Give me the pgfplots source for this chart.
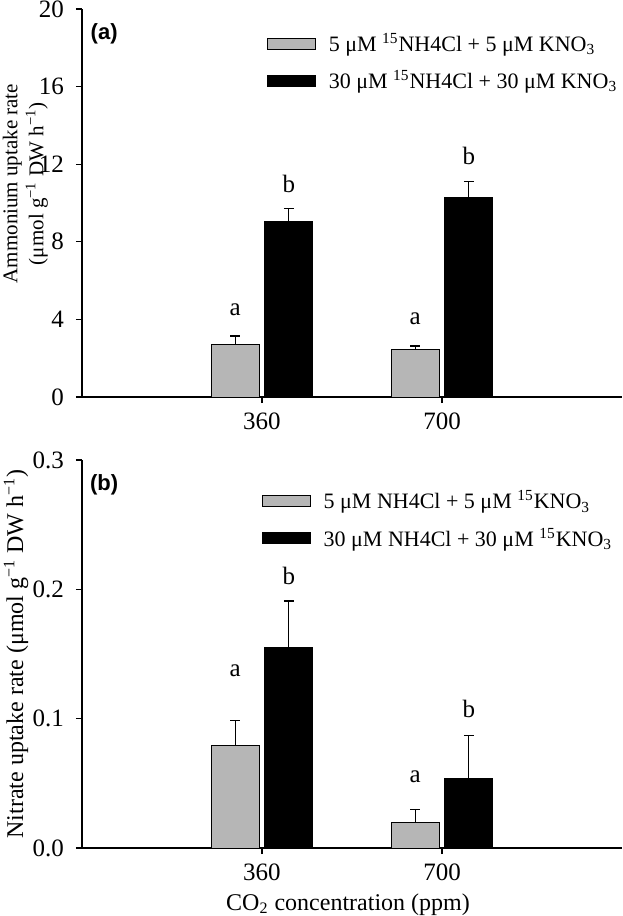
\documentclass[border=0pt]{standalone}
\usepackage{fontspec}
\setmainfont{Liberation Serif}
\newfontfamily\panelfont{Liberation Sans}
\usepackage{pgfplots}
\pgfplotsset{compat=1.18}
\definecolor{barg}{RGB}{182,182,182}
\tikzset{lett/.style={anchor=base, font=\fontsize{12.5}{14}\selectfont}}
\pgfplotsset{
  mybase/.style={
    width=270pt, height=194pt, scale only axis,
    xmin=0, xmax=3, xtick={1,2}, xticklabels={360,700},
    axis x line*=bottom, axis y line*=left,
    tick align=outside, major tick length=3pt,
    tick style={black, line width=0.6pt},
    axis line style={line width=0.7pt},
    ybar=2.75pt, bar width=24pt,
    tick label style={font=\fontsize{12.5}{14}\selectfont},
    yticklabel style={xshift=-2.5pt},
    xticklabel style={yshift=-1.5pt},
    label style={font=\fontsize{12}{14.5}\selectfont},
    /pgf/number format/assume math mode=true,
    legend style={draw=none, fill=none, font=\fontsize{11}{13}\selectfont,
      row sep=4pt, inner sep=0pt, anchor=north west, legend cell align=left},
    error bars/y dir=plus, error bars/y explicit,
    error bars/error mark options={rotate=90, mark size=2.5pt, line width=0.6pt, black},
    error bars/error bar style={line width=0.6pt, black},
  },
  lgimg/.style={legend image code/.code={\draw[##1, line width=0.5pt] (0pt,-2.75pt) rectangle (24pt,2.75pt); \path (28.5pt,0pt);}},
}
\begin{document}
\begin{tikzpicture}
\begin{axis}[mybase, name=a,
  ymin=0, ymax=20, ytick={0,4,8,12,16,20},
  ylabel={Ammonium uptake rate\\(μmol g\textsuperscript{−1} DW h\textsuperscript{−1})},
  ylabel style={align=center, font=\fontsize{10.5}{13}\selectfont, inner sep=0pt,
    at={(axis description cs:-0.105,0.55)}, anchor=center},
  legend style={at={(0.3415,0.949)}},
]
\addplot[fill=barg, draw=black, line width=0.5pt, lgimg] coordinates {(1,2.73) +- (0,0.41) (2,2.47) +- (0,0.16)};
\addlegendentry{5 μM \textsuperscript{15}NH4Cl + 5 μM KNO\textsubscript{3}}
\addplot[fill=black, draw=black, line width=0.5pt, lgimg] coordinates {(1,9.06) +- (0,0.67) (2,10.30) +- (0,0.82)};
\addlegendentry{30 μM \textsuperscript{15}NH4Cl + 30 μM KNO\textsubscript{3}}
\node[font=\panelfont\bfseries\fontsize{11}{13}\selectfont] at (rel axis cs:0.041,0.937) {(a)};
\node[lett, xshift=-13.4pt] at (axis cs:1,4.22) {a};
\node[lett, xshift=13.4pt] at (axis cs:1,10.56) {b};
\node[lett, xshift=-13.4pt] at (axis cs:2,3.76) {a};
\node[lett, xshift=13.4pt] at (axis cs:2,12.0) {b};
\end{axis}
\begin{axis}[mybase, at={(0,-225.5pt)},
  ymin=0, ymax=0.3, ytick={0,0.1,0.2,0.3},
  yticklabel style={/pgf/number format/.cd, fixed, fixed zerofill, precision=1},
  ylabel={Nitrate uptake rate (μmol g\textsuperscript{−1} DW h\textsuperscript{−1})},
  ylabel style={at={(axis description cs:-0.122,0.5)}, anchor=center},
  xlabel={CO\textsubscript{2} concentration (ppm)},
  xlabel style={at={(axis description cs:0.4926,-0.145)}, anchor=center},
  legend style={at={(0.332,0.932)}},
]
\addplot[fill=barg, draw=black, line width=0.5pt, lgimg] coordinates {(1,0.079) +- (0,0.0194) (2,0.020) +- (0,0.010)};
\addlegendentry{5 μM NH4Cl + 5 μM \textsuperscript{15}KNO\textsubscript{3}}
\addplot[fill=black, draw=black, line width=0.5pt, lgimg] coordinates {(1,0.155) +- (0,0.036) (2,0.054) +- (0,0.033)};
\addlegendentry{30 μM NH4Cl + 30 μM \textsuperscript{15}KNO\textsubscript{3}}
\node[font=\panelfont\bfseries\fontsize{11}{13}\selectfont] at (rel axis cs:0.041,0.937) {(b)};
\node[lett, xshift=-13.4pt] at (axis cs:1,0.1326) {a};
\node[lett, xshift=13.4pt] at (axis cs:1,0.204) {b};
\node[lett, xshift=-13.4pt] at (axis cs:2,0.0504) {a};
\node[lett, xshift=13.4pt] at (axis cs:2,0.1008) {b};
\end{axis}
\pgfresetboundingbox
\path (-41pt,-259.5pt) rectangle (270pt,198.5pt);
\end{tikzpicture}
\end{document}
